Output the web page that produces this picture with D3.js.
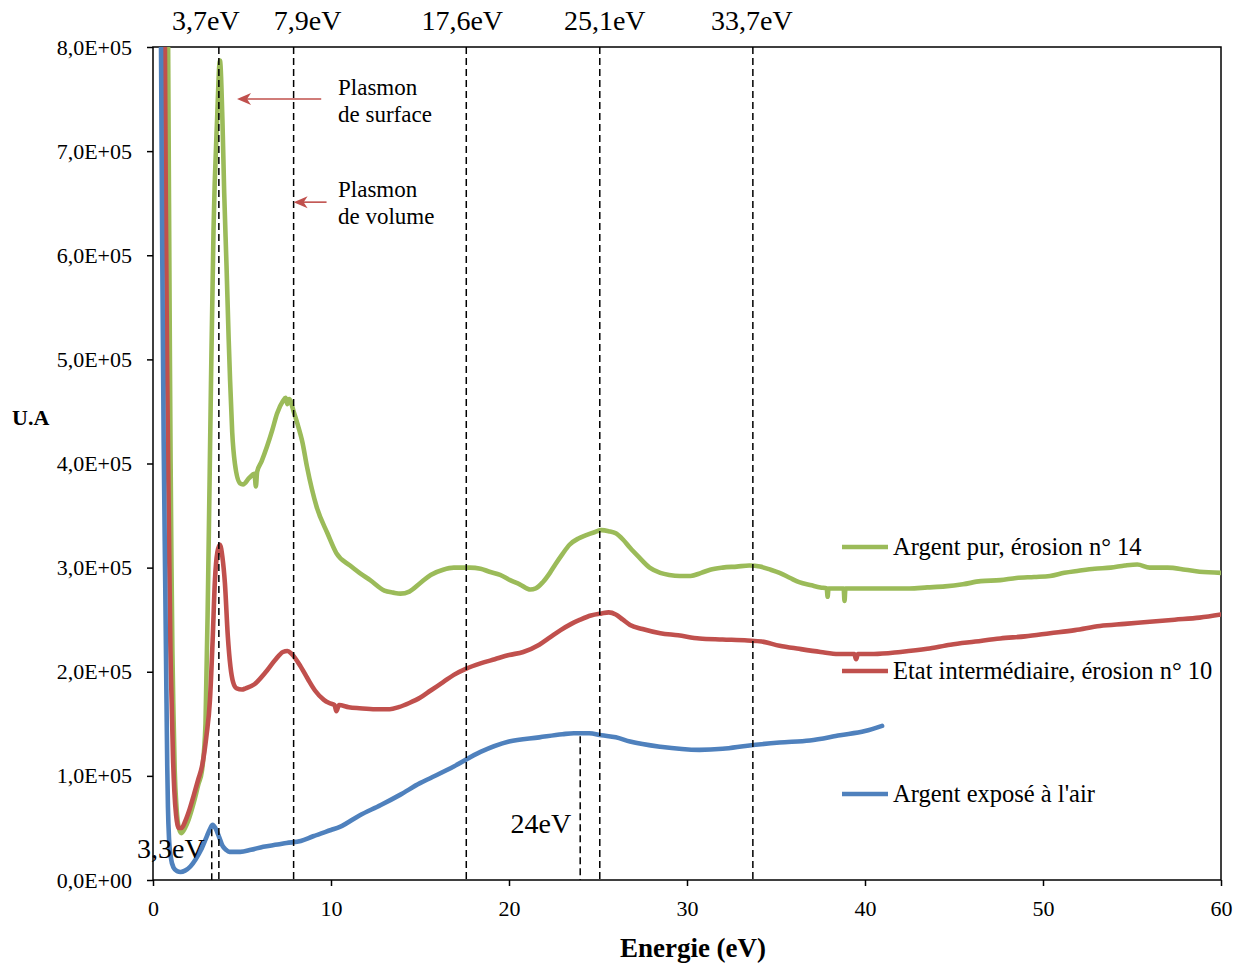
<!DOCTYPE html>
<html>
<head>
<meta charset="utf-8">
<script src="https://cdn.jsdelivr.net/npm/d3@7"></script>
<style>
  body { margin: 0; background: #fff; }
  text { font-family: "Liberation Serif", "Times New Roman", serif; fill: #000; }
</style>
</head>
<body>
<svg id="chart" width="1242" height="964"></svg>
<script>
// Spectra: [energy (eV), intensity (x 1E+05 U.A)]
const pureSilver = [
  [0.84, 8.3], [0.9, 6.5], [0.95, 5.0], [0.99, 4.0], [1.04, 3.0], [1.09, 2.2], [1.15, 1.6],
  [1.22, 1.05], [1.32, 0.7], [1.45, 0.5], [1.6, 0.45], [1.8, 0.5], [2.0, 0.58], [2.3, 0.75],
  [2.55, 0.92], [2.75, 1.05], [2.95, 1.5], [3.1, 2.9], [3.26, 4.8], [3.4, 6.24], [3.6, 7.3],
  [3.76, 7.87], [3.9, 7.3], [4.0, 6.6], [4.13, 5.9], [4.25, 5.2], [4.33, 4.8], [4.45, 4.3],
  [4.6, 4.0], [4.89, 3.81], [5.06, 3.8], [5.4, 3.86], [5.7, 3.9], [5.78, 3.78], [5.85, 3.92],
  [6.1, 4.02], [6.4, 4.16], [6.7, 4.32], [6.97, 4.48], [7.3, 4.6], [7.45, 4.63], [7.55, 4.57],
  [7.65, 4.62], [7.9, 4.5], [8.1, 4.39], [8.4, 4.2], [8.65, 3.97], [9.2, 3.58], [9.8, 3.33],
  [10.3, 3.14], [11.07, 3.02], [11.6, 2.95], [12.2, 2.88], [13.0, 2.78], [13.5, 2.76],
  [13.9, 2.75], [14.4, 2.77], [15.0, 2.85], [15.6, 2.93], [16.3, 2.98], [16.9, 3.0], [17.8, 3.0],
  [18.4, 2.99], [18.9, 2.96], [19.5, 2.93], [20.06, 2.88], [20.6, 2.84], [21.2, 2.79],
  [21.5, 2.8], [21.9, 2.86], [22.3, 2.95], [22.6, 3.03], [23.0, 3.13], [23.4, 3.22], [23.9, 3.28],
  [24.3, 3.31], [24.8, 3.34], [25.2, 3.36], [25.6, 3.35], [26.0, 3.33], [26.4, 3.27], [26.8, 3.19],
  [27.3, 3.1], [27.9, 3.0], [28.5, 2.95], [29.0, 2.93], [29.6, 2.92], [30.2, 2.92], [30.8, 2.95],
  [31.3, 2.98], [32.0, 3.0], [32.8, 3.01], [33.5, 3.02], [34.1, 3.01], [34.7, 2.98], [35.2, 2.95],
  [35.8, 2.9], [36.3, 2.86], [37.0, 2.83], [37.5, 2.81], [37.85, 2.8], [37.9, 2.72], [37.95, 2.8],
  [38.4, 2.8], [38.8, 2.8], [38.85, 2.68], [38.9, 2.8], [39.5, 2.8], [40.5, 2.8], [41.5, 2.8],
  [42.5, 2.8], [43.5, 2.81], [44.5, 2.82], [45.5, 2.84], [46.5, 2.87], [47.6, 2.88], [48.5, 2.9],
  [49.5, 2.91], [50.4, 2.92], [51.2, 2.95], [52.0, 2.97], [52.9, 2.99], [53.8, 3.0], [54.6, 3.02],
  [55.3, 3.03], [56.0, 3.0], [57.0, 3.0], [58.0, 2.98], [58.8, 2.96], [60.0, 2.95]
];

const intermediate = [
  [0.66, 8.3], [0.72, 6.5], [0.79, 5.0], [0.85, 4.0], [0.92, 3.0], [0.98, 2.2], [1.05, 1.7],
  [1.12, 1.2], [1.2, 0.85], [1.3, 0.62], [1.45, 0.5], [1.6, 0.5], [1.8, 0.56], [2.0, 0.65],
  [2.3, 0.82], [2.55, 0.97], [2.75, 1.09], [3.0, 1.38], [3.2, 1.73], [3.35, 2.3], [3.48, 2.88],
  [3.62, 3.15], [3.76, 3.22], [3.9, 3.1], [4.04, 2.85], [4.2, 2.35], [4.35, 2.05], [4.5, 1.9],
  [4.7, 1.84], [5.0, 1.83], [5.2, 1.84], [5.7, 1.88], [6.3, 1.99], [6.85, 2.11], [7.3, 2.19],
  [7.55, 2.2], [7.8, 2.17], [8.26, 2.06], [8.7, 1.93], [9.1, 1.82], [9.6, 1.73], [9.9, 1.7],
  [10.2, 1.68], [10.3, 1.62], [10.45, 1.68], [11.0, 1.66], [11.6, 1.65], [12.5, 1.64],
  [13.3, 1.64], [13.8, 1.66], [14.4, 1.7], [15.0, 1.75], [15.6, 1.82], [16.3, 1.9], [16.9, 1.97],
  [17.6, 2.03], [18.4, 2.08], [19.2, 2.12], [20.0, 2.16], [20.8, 2.19], [21.7, 2.26], [22.3, 2.33],
  [22.9, 2.4], [23.5, 2.46], [24.0, 2.5], [24.6, 2.54], [25.2, 2.56], [25.6, 2.57], [26.0, 2.55],
  [26.4, 2.5], [26.8, 2.45], [27.5, 2.41], [28.5, 2.37], [29.5, 2.35], [30.7, 2.32], [32.0, 2.31],
  [33.4, 2.3], [34.2, 2.29], [35.2, 2.25], [36.3, 2.22], [37.5, 2.19], [38.5, 2.17], [39.4, 2.17],
  [39.5, 2.12], [39.6, 2.17], [40.5, 2.17], [42.0, 2.19], [43.5, 2.22], [44.8, 2.26], [46.2, 2.29],
  [47.6, 2.32], [49.0, 2.34], [50.4, 2.37], [51.8, 2.4], [53.2, 2.44], [54.6, 2.46], [56.0, 2.48],
  [57.4, 2.5], [58.8, 2.52], [60.0, 2.55]
];

const airExposed = [
  [0.44, 8.3], [0.52, 6.0], [0.6, 4.2], [0.69, 2.8], [0.76, 1.7], [0.8, 1.1], [0.84, 0.7],
  [0.9, 0.4], [1.0, 0.22], [1.15, 0.12], [1.35, 0.085], [1.55, 0.077], [1.8, 0.09], [2.1, 0.13],
  [2.4, 0.2], [2.7, 0.29], [3.0, 0.41], [3.2, 0.49], [3.35, 0.53], [3.5, 0.5], [3.7, 0.42],
  [3.9, 0.33], [4.1, 0.29], [4.3, 0.27], [4.9, 0.27], [5.5, 0.29], [6.2, 0.32], [7.0, 0.34],
  [7.5, 0.355], [8.3, 0.375], [9.0, 0.42], [10.0, 0.48], [10.5, 0.51], [11.6, 0.62], [12.8, 0.72],
  [13.9, 0.82], [15.0, 0.93], [15.6, 0.98], [16.9, 1.09], [18.4, 1.23], [20.0, 1.33], [21.7, 1.37],
  [23.0, 1.4], [23.65, 1.41], [24.5, 1.41], [25.2, 1.39], [26.0, 1.37], [26.8, 1.33], [28.5, 1.28],
  [30.7, 1.25], [32.0, 1.26], [33.4, 1.29], [35.2, 1.32], [36.9, 1.34], [38.6, 1.39], [40.0, 1.43],
  [40.96, 1.48]
];

const seriesNames = ["Argent pur, érosion n° 14", "Etat intermédiaire, érosion n° 10", "Argent exposé à l'air"];
const seriesColors = ["#9bbb59", "#c0504d", "#4f81bd"];

const xTicks = [0, 10, 20, 30, 40, 50, 60];
const yTicks = [0, 1e5, 2e5, 3e5, 4e5, 5e5, 6e5, 7e5, 8e5];

// Plasmon energies marked across the whole plot
const peakEnergies = [3.7, 7.9, 17.6, 25.1, 33.7];
const peakLabels = ["3,7eV", "7,9eV", "17,6eV", "25,1eV", "33,7eV"];
// Energies marked only below the air-exposed spectrum
const airPeakEnergies = [3.3, 24];
const airPeakLabels = ["3,3eV", "24eV"];

const svg = d3.select("#chart");
const L = 153, R = 1221, T = 47, B = 880;
const serif = "'Liberation Serif', 'Times New Roman', serif";

const x = d3.scaleLinear().domain([0, 60]).range([L, R]);
const y = d3.scaleLinear().domain([0, 8e5]).range([B, T]);

const fmtY = d => {
  if (d === 0) return "0,0E+00";
  return (d / 1e5).toFixed(1).replace(".", ",") + "E+05";
};

svg.append("defs").append("clipPath").attr("id", "plot")
  .append("rect").attr("x", L).attr("y", T).attr("width", R - L).attr("height", B - T);

// Frame
svg.append("rect").attr("x", L).attr("y", T).attr("width", R - L).attr("height", B - T)
  .attr("fill", "none").attr("stroke", "#000").attr("stroke-width", 1.5);

// Axes
const yAxis = svg.append("g").attr("transform", `translate(${L},0)`)
  .call(d3.axisLeft(y).tickValues(yTicks).tickFormat(fmtY).tickSize(6).tickSizeOuter(0).tickPadding(15));
const xAxis = svg.append("g").attr("transform", `translate(0,${B})`)
  .call(d3.axisBottom(x).tickValues(xTicks).tickFormat(d3.format("d")).tickSize(6).tickSizeOuter(0).tickPadding(14));
[yAxis, xAxis].forEach(g => {
  g.attr("font-family", serif);
  g.select(".domain").remove();
  g.selectAll(".tick line").attr("stroke", "#000").attr("stroke-width", 1.5);
  g.selectAll(".tick text").attr("font-size", 22).attr("fill", "#000").style("font-family", serif);
});

// Spectra
const line = d3.line()
  .x(d => x(d[0]))
  .y(d => y(d[1] * 1e5))
  .curve(d3.curveMonotoneX);

const curves = svg.append("g").attr("clip-path", "url(#plot)");
[pureSilver, intermediate, airExposed].forEach((s, i) => {
  curves.append("path").datum(s)
    .attr("d", line)
    .attr("fill", "none")
    .attr("stroke", seriesColors[i])
    .attr("stroke-width", 4.6)
    .attr("stroke-linejoin", "round")
    .attr("stroke-linecap", "round");
});

// Dashed markers
const dash = "7,4";
const labelShift = [-13, 14, -4, 5, -1];
peakEnergies.forEach((e, i) => {
  svg.append("line")
    .attr("x1", x(e)).attr("x2", x(e)).attr("y1", T).attr("y2", B)
    .attr("stroke", "#000").attr("stroke-width", 1.5).attr("stroke-dasharray", dash);
  svg.append("text")
    .attr("x", x(e) + labelShift[i]).attr("y", 30)
    .attr("text-anchor", "middle").attr("font-size", 28)
    .style("font-family", serif)
    .text(peakLabels[i]);
});

const airAt = e => {
  const i = d3.bisector(d => d[0]).left(airExposed, e);
  const a = airExposed[i - 1], b = airExposed[i];
  return a[1] + (b[1] - a[1]) * (e - a[0]) / (b[0] - a[0]);
};
const airLabelShift = [-7, -9];
const airLabelBase = [858, 833];
airPeakEnergies.forEach((e, i) => {
  svg.append("line")
    .attr("x1", x(e)).attr("x2", x(e)).attr("y1", y(airAt(e) * 1e5) + 3).attr("y2", B)
    .attr("stroke", "#000").attr("stroke-width", 1.5).attr("stroke-dasharray", dash);
  svg.append("text")
    .attr("x", x(e) + airLabelShift[i]).attr("y", airLabelBase[i])
    .attr("text-anchor", "end").attr("font-size", 28)
    .style("font-family", serif)
    .text(airPeakLabels[i]);
});

// Plasmon annotations with arrows
const arrowColor = "#c0504d";
function arrow(fromE, toE, v) {
  const x0 = x(fromE), x1 = x(toE), yy = y(v);
  svg.append("line").attr("x1", x0).attr("x2", x1 + 8).attr("y1", yy).attr("y2", yy)
    .attr("stroke", arrowColor).attr("stroke-width", 1.6);
  svg.append("path")
    .attr("d", `M${x1},${yy} L${x1 + 14},${yy - 6} L${x1 + 10},${yy} L${x1 + 14},${yy + 6} Z`)
    .attr("fill", arrowColor);
}
arrow(9.45, 4.72, 7.5e5);
arrow(9.75, 7.9, 6.51e5);

const ann = svg.append("g").attr("font-size", 23).style("font-family", serif);
ann.append("text").attr("x", 338).attr("y", 95).text("Plasmon");
ann.append("text").attr("x", 338).attr("y", 122).text("de surface");
ann.append("text").attr("x", 338).attr("y", 197).text("Plasmon");
ann.append("text").attr("x", 338).attr("y", 224).text("de volume");

// Legend
const legendY = [547, 671, 794];
const legend = svg.append("g").style("font-family", serif);
seriesNames.forEach((n, i) => {
  legend.append("line").attr("x1", 842).attr("x2", 888).attr("y1", legendY[i]).attr("y2", legendY[i])
    .attr("stroke", seriesColors[i]).attr("stroke-width", 4.6);
  legend.append("text").attr("x", 893).attr("y", legendY[i] + 8).attr("font-size", 24.5).text(n);
});

// Axis titles
svg.append("text").attr("x", 693).attr("y", 957).attr("text-anchor", "middle")
  .attr("font-size", 27).attr("font-weight", "bold").style("font-family", serif).text("Energie (eV)");
svg.append("text").attr("x", 12).attr("y", 425)
  .attr("font-size", 22).attr("font-weight", "bold").style("font-family", serif).text("U.A");
</script>
</body>
</html>
